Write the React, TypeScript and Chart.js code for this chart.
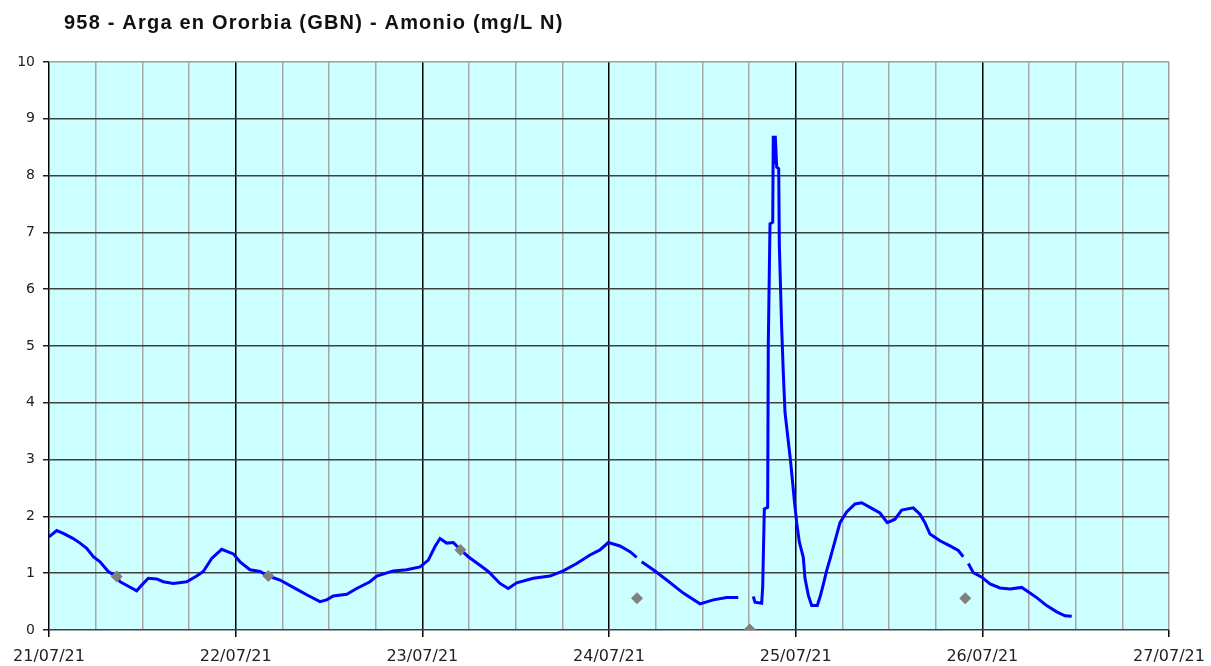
import React, { useEffect, useRef } from "react";
import { Chart, registerables } from "chart.js";

Chart.register(...registerables);

const TITLE = "958 - Arga en Ororbia (GBN) - Amonio (mg/L N)";
const DAY_LABELS = ["21/07/21", "22/07/21", "23/07/21", "24/07/21", "25/07/21", "26/07/21", "27/07/21"];
const Y_TICKS = [0, 1, 2, 3, 4, 5, 6, 7, 8, 9, 10];

// hours since 21/07/21 00:00
const lineHours = [
  0.0, 0.99, 1.84, 3.12, 3.99, 4.85, 5.7, 6.56, 7.62, 8.7, 9.13, 10.2, 11.28, 11.92, 12.77, 13.85, 14.7, 15.98, 17.7,
  18.99, 19.84, 20.92, 22.2, 23.7, 24.56, 25.84, 27.13, 28.2, 29.7, 31.41, 33.13, 34.84, 35.7, 36.55, 38.28, 39.56,
  41.27, 42.13, 44.27, 45.99, 47.7, 48.77, 49.63, 50.27, 51.13, 51.98, 52.93, 53.91, 55.41, 56.48, 57.98, 59.05,
  60.13, 62.27, 64.41, 66.12, 67.85, 69.56, 70.84, 71.91, 73.41, 74.7, 75.56, 75.9, 76.2, 77.69, 79.42, 81.55, 83.7,
  85.41, 87.13, 88.62, 89.5, 90.55, 90.77, 91.63, 91.76, 91.97, 92.4, 92.48, 92.7, 93.05, 93.12, 93.28, 93.38, 93.47,
  93.56, 93.82, 93.9, 94.2, 94.41, 94.63, 94.93, 95.36, 95.83, 96.13, 96.47, 96.98, 97.2, 97.63, 98.06, 98.78, 99.13,
  99.55, 99.99, 100.42, 101.06, 101.7, 102.56, 103.63, 104.49, 105.56, 106.84, 107.78, 108.77, 109.63, 111.12,
  111.98, 112.62, 113.27, 114.55, 115.84, 116.91, 117.55, 117.9, 118.2, 118.84, 119.92, 120.99, 122.27, 123.56,
  125.06, 125.7, 126.99, 128.27, 129.56, 130.63, 131.49,
];
const lineValues: (number | null)[] = [
  1.64, 1.75, 1.7, 1.61, 1.53, 1.44, 1.29, 1.2, 1.03, 0.94, 0.85, 0.77, 0.69, 0.79, 0.91, 0.9, 0.85, 0.82, 0.85,
  0.95, 1.03, 1.26, 1.42, 1.34, 1.2, 1.06, 1.03, 0.95, 0.88, 0.75, 0.62, 0.5, 0.53, 0.6, 0.63, 0.73,
  0.85, 0.95, 1.04, 1.06, 1.11, 1.23, 1.47, 1.61, 1.53, 1.54, 1.41, 1.29, 1.14, 1.03, 0.82, 0.73,
  0.83, 0.91, 0.95, 1.04, 1.17, 1.32, 1.41, 1.54, 1.48, 1.38, 1.28, null, 1.2, 1.06, 0.88, 0.65, 0.46,
  0.53, 0.57, 0.57, null, 0.59, 0.49, 0.47, 0.76, 2.13, 2.16, 5.02, 7.15, 7.18, 8.7, 8.2, 8.7, 8.7,
  8.15, 8.12, 6.78, 5.32, 4.53, 3.83, 3.47, 2.95, 2.28, 1.89, 1.55, 1.28, 0.91, 0.61, 0.43, 0.43, 0.58,
  0.8, 1.05, 1.25, 1.57, 1.89, 2.08, 2.22, 2.24, 2.16, 2.06, 1.89, 1.95, 2.11, 2.15,
  2.04, 1.89, 1.69, 1.57, 1.48, 1.4, 1.29, null, 1.17, 1.01, 0.93, 0.81, 0.74, 0.72,
  0.75, 0.69, 0.57, 0.43, 0.32, 0.25, 0.24,
];

const sampleHours = [8.7, 28.2, 52.9, 75.6, 90.1, 117.8];
const sampleValues = [0.94, 0.95, 1.41, 0.56, 0.01, 0.56];

export default function App() {
  const canvasRef = useRef<HTMLCanvasElement | null>(null);

  useEffect(() => {
    const canvas = canvasRef.current;
    if (!canvas) return;

    const bgPlugin = {
      id: "plotBg",
      beforeDraw(chart: any) {
        const { ctx, chartArea } = chart;
        ctx.save();
        ctx.fillStyle = "#CCFFFF";
        ctx.fillRect(chartArea.left, chartArea.top, chartArea.right - chartArea.left, chartArea.bottom - chartArea.top);
        ctx.restore();
      },
    };
    const titlePlugin = {
      id: "leftTitle",
      afterDraw(chart: any) {
        const { ctx } = chart;
        ctx.save();
        ctx.font = "bold 20px 'Liberation Sans', Arial, sans-serif";
        try {
          (ctx as any).letterSpacing = "1.2px";
        } catch (e) {}
        ctx.fillStyle = "#111111";
        ctx.textAlign = "left";
        ctx.textBaseline = "middle";
        ctx.fillText(TITLE, 64, 23);
        ctx.restore();
      },
    };

    const chart = new Chart(canvas, {
      type: "line",
      data: {
        datasets: [
          {
            label: "Amonio",
            data: lineHours.map((h, i) => ({ x: h, y: lineValues[i] })),
            borderColor: "#0000FF",
            borderWidth: 3,
            pointRadius: 0,
            spanGaps: false,
            fill: false,
            tension: 0,
            order: 2,
          },
          {
            label: "Muestras",
            data: sampleHours.map((h, i) => ({ x: h, y: sampleValues[i] })),
            showLine: false,
            pointStyle: "rectRot",
            pointRadius: 6,
            pointBackgroundColor: "#808080",
            pointBorderColor: "#808080",
            pointBorderWidth: 0,
            order: 1,
          },
        ],
      },
      options: {
        responsive: false,
        animation: false,
        layout: { padding: { left: 0, right: 42, top: 62, bottom: 0 } },
        plugins: {
          legend: { display: false },
          title: { display: false },
          tooltip: { enabled: false },
        },
        scales: {
          x: {
            type: "linear",
            min: 0,
            max: 144,
            afterFit: (scale: any) => {
              scale.height = 36;
              scale.paddingLeft = 0;
              scale.paddingRight = 0;
            },
            afterBuildTicks: (scale: any) => {
              const t = [];
              for (let v = 0; v <= 144; v += 6) t.push({ value: v });
              scale.ticks = t;
            },
            ticks: {
              autoSkip: false,
              maxRotation: 0,
              padding: 10,
              color: "#222222",
              font: { family: "'DejaVu Sans', Verdana, sans-serif", size: 16 },
              callback: (v: any) => (Number(v) % 24 === 0 ? DAY_LABELS[Number(v) / 24] : ""),
            },
            grid: {
              lineWidth: 1.5,
              tickLength: 7,
              color: (c: any) => {
                const v = c.tick ? c.tick.value : 0;
                if (v === 144) return "#A0A0A0";
                return v % 24 === 0 ? "#000000" : "#A8A8A8";
              },
              tickColor: (c: any) => {
                const v = c.tick ? c.tick.value : 0;
                return v % 24 === 0 ? "#000000" : "rgba(0,0,0,0)";
              },
            },
            border: { display: false },
          },
          y: {
            type: "linear",
            min: 0,
            max: 10,
            afterFit: (scale: any) => {
              scale.width = 49;
              scale.paddingTop = 0;
              scale.paddingBottom = 0;
            },
            afterBuildTicks: (scale: any) => {
              scale.ticks = Y_TICKS.map((v) => ({ value: v }));
            },
            ticks: {
              padding: 8,
              color: "#222222",
              font: { family: "'DejaVu Sans', Verdana, sans-serif", size: 14 },
              callback: (v: any) => String(v),
            },
            grid: {
              lineWidth: 1.5,
              tickLength: 6,
              color: (c: any) => {
                const v = c.tick ? c.tick.value : 0;
                return v === 10 ? "#A0A0A0" : "#404040";
              },
              tickColor: "#202020",
            },
            border: { display: false },
          },
        },
      },
      plugins: [bgPlugin, titlePlugin],
    });

    return () => {
      chart.destroy();
    };
  }, []);

  return (
    <div style={{ position: "absolute", left: 0, top: 0, width: 1211, height: 666, background: "#ffffff" }}>
      <canvas ref={canvasRef} width={1211} height={666} style={{ display: "block", width: 1211, height: 666 }} />
    </div>
  );
}
